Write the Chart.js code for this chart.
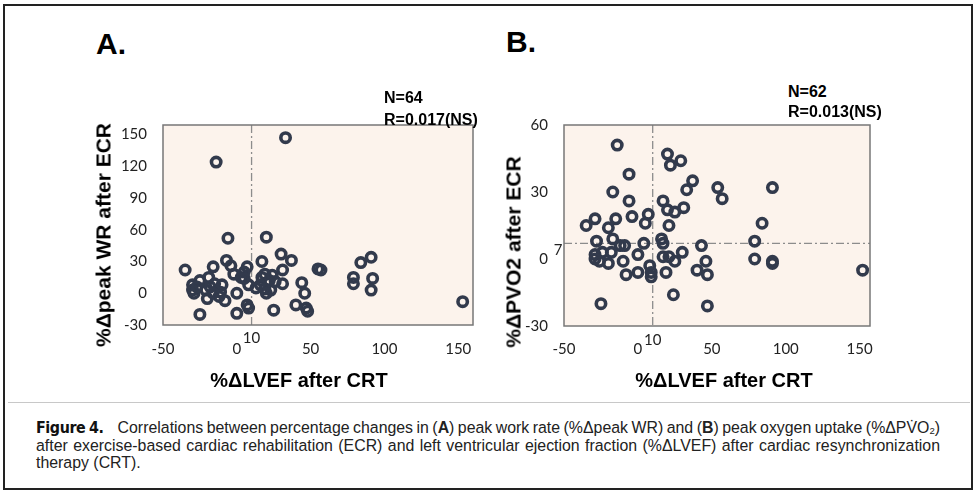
<!DOCTYPE html>
<html>
<head>
<meta charset="utf-8">
<script src="https://cdn.jsdelivr.net/npm/chart.js@4.4.1/dist/chart.umd.min.js"></script>
<style>
  html, body { margin: 0; padding: 0; background: #fff; }
  #page { position: relative; width: 978px; height: 495px; overflow: hidden; font-family: "Liberation Sans", Arial, sans-serif; }
  #frame { position: absolute; left: 3px; top: 4px; width: 966px; height: 482px; border: 2px solid #222; }
  #sep { position: absolute; left: 8px; top: 402px; width: 962px; height: 1px; background: #c8c8c8; }
  canvas { position: absolute; }
  .lbl { position: absolute; font-weight: bold; color: #000; white-space: nowrap; line-height: 1; }
  .panel { font-size: 30px; }
  .stat { font-size: 16px; }
  .ytitle { font-size: 21px; transform: translate(-50%, -50%) rotate(-90deg); }
  .xtitle { font-size: 20px; transform: translate(-50%, -50%); }
  .cap { position: absolute; left: 36px; width: 904px; font-size: 15px; color: #222; white-space: nowrap; line-height: 1; }
  .cap b.fig { font-family: "DejaVu Sans Condensed", "Liberation Sans Narrow", sans-serif; font-weight: bold; font-size: 1em; margin-right: 14px; letter-spacing: -0.4px; color: #111; }
  .cap sub { font-size: 0.6em; vertical-align: -1px; }
</style>
</head>
<body>
<div id="page">
  <div id="frame"></div>
  <div id="sep"></div>

  <canvas id="chartA" width="420" height="300" style="left:80px;top:100px;width:420px;height:300px"></canvas>
  <canvas id="chartB" width="400" height="300" style="left:500px;top:100px;width:400px;height:300px"></canvas>

  <div class="lbl panel" style="left:96px;top:29px">A.</div>
  <div class="lbl panel" style="left:506px;top:27px">B.</div>

  <div class="lbl stat" style="left:384px;top:90px">N=64</div>
  <div class="lbl stat" style="left:384px;top:112px">R=0.017(NS)</div>
  <div class="lbl stat" style="left:788px;top:84px">N=62</div>
  <div class="lbl stat" style="left:788px;top:104px">R=0.013(NS)</div>

  <div class="lbl ytitle" style="left:103px;top:235px">%Δpeak WR after ECR</div>
  <div class="lbl ytitle" style="left:513px;top:252px">%ΔPVO2 after ECR</div>
  <div class="lbl xtitle" style="left:299px;top:380px">%ΔLVEF after CRT</div>
  <div class="lbl xtitle" style="left:724px;top:380px">%ΔLVEF after CRT</div>

  <div class="cap" style="top:420px"><span class="line"><b class="fig">Figure 4.</b>Correlations between percentage changes in (<b>A</b>) peak work rate (%Δpeak WR) and (<b>B</b>) peak oxygen uptake (%ΔPV̇O<sub>2</sub>)</span></div>
  <div class="cap" style="top:438px"><span class="line">after exercise-based cardiac rehabilitation (ECR) and left ventricular ejection fraction (%ΔLVEF) after cardiac resynchronization</span></div>
  <div class="cap" style="top:455px"><span>therapy (CRT).</span></div>
</div>

<script>
// panel A: %ΔLVEF after CRT vs %Δpeak WR after ECR (N=64)
const lvefA = [
  33, -14, -6, 20, -35, -16, -7, -4, 7, 5, 3, 17, 30, 37, 31, 55,
  57, 84, 91, 79, 79, 92, 91, 153, 44, 46, 40, 47, 48, 25, 7, 8,
  0, -25, 0, 8, -30, -29, -25, -21, -19, -18, -15, -11, -10, -20, -12, -8,
  -30, 17, 19, 22, 16, 19, 23, 26, 31, 20, 24, 5, -27, -16, 13, -2,
];
const peakWR = [
  147, 124, 52, 53, 22, 25, 31, 26, 25, 20, 15, 30, 37, 31, 22, 23,
  22, 29, 34, 15, 9, 14, 3, -8, 10, 0, -11, -14, -17, -16, -11, -14,
  -19, -20, 0, 8, 8, 0, 12, 3, 15, 6, 9, 1, 8, -5, -3, -7,
  3, 15, 18, 12, 8, 4, 3, 11, 9, 0, 17, 14, 6, 0, 5, 18,
];

// panel B: %ΔLVEF after CRT vs %ΔPVO2 after ECR (N=62)
const lvefB = [
  -14, 20, 29, 22, -6, 37, 33, 54, 57, 91, -17, -6, 17, 20, 25, 31,
  7, 5, -4, -15, -29, -35, -20, 21, 84, -28, -17, -12, -9, 4, 16, 17,
  43, 79, -29, -24, -18, -29, -20, -10, 0, 17, 21, 25, 30, 46, 40, 47,
  79, 91, 91, 152, -8, 0, 8, 9, 9, 19, 24, 47, -25, -26,
];
const peakVO2 = [
  51, 47, 44, 42, 38, 35, 31, 32, 27, 32, 30, 26, 26, 22, 21, 23,
  20, 16, 19, 18, 18, 15, 14, 15, 16, 8, 9, 6, 6, 7, 9, 7,
  6, 8, 2, 3, 3, 0, -2, -1, 2, 1, 1, -1, 3, -1, -5, -7,
  0, -1, -2, -5, -7, -6, -3, -6, -8, -6, -16, -21, -20, -1,
];

const xTicks = [-50, 0, 50, 100, 150];
const yTicksA = [-30, 0, 30, 60, 90, 120, 150];
const yTicksB = [-30, 0, 30, 60];

const markerColor = "#323a4c";
const tickFont = { family: "Lato, 'Open Sans', sans-serif", size: 15 };

const toPoints = (xs, ys) => xs.map((x, i) => ({ x, y: ys[i] }));

const panelDecor = {
  id: "panelDecor",
  beforeDatasetsDraw(chart, args, opts) {
    const { ctx, chartArea: a, scales } = chart;
    ctx.save();
    ctx.fillStyle = "#fcf3ec";
    ctx.fillRect(a.left, a.top, a.width, a.height);

    ctx.strokeStyle = "#8c8c8c";
    ctx.lineWidth = 1.3;
    ctx.setLineDash([8, 3, 2, 3]);
    ctx.beginPath();
    const vx = scales.x.getPixelForValue(opts.refX);
    ctx.moveTo(vx, a.top);
    ctx.lineTo(vx, a.bottom);
    if (opts.refY !== undefined) {
      const hy = scales.y.getPixelForValue(opts.refY);
      ctx.moveTo(a.left, hy);
      ctx.lineTo(a.right, hy);
    }
    ctx.stroke();
    ctx.restore();
  },
  afterDraw(chart, args, opts) {
    const { ctx, chartArea: a, scales } = chart;
    ctx.save();
    ctx.strokeStyle = "#777";
    ctx.lineWidth = 1.5;
    ctx.strokeRect(a.left, a.top, a.width, a.height);

    ctx.fillStyle = "#222";
    ctx.font = `${tickFont.size}px ${tickFont.family}`;
    ctx.textAlign = "center";
    ctx.textBaseline = "middle";
    ctx.fillText(String(opts.refX), scales.x.getPixelForValue(opts.refX), a.bottom + opts.refXLabelOffset);
    if (opts.refY !== undefined) {
      ctx.fillText(String(opts.refY), a.left - 6, scales.y.getPixelForValue(opts.refY) + 7);
    }
    ctx.restore();
  },
};

const buildScatter = (canvasId, points, cfg) => {
  const canvas = document.getElementById(canvasId);
  new Chart(canvas, {
    data: {
      datasets: [
        {
          backgroundColor: "rgba(0,0,0,0)",
          borderColor: markerColor,
          borderWidth: 3.6,
          data: points,
          pointHoverRadius: 4.7,
          pointRadius: 4.7,
        },
      ],
    },
    options: {
      animation: false,
      events: [],
      layout: { padding: cfg.padding },
      plugins: {
        legend: { display: false },
        panelDecor: {
          refX: 10,
          refXLabelOffset: cfg.refXLabelOffset,
          refY: cfg.refY,
        },
        tooltip: { enabled: false },
      },
      responsive: false,
      scales: {
        x: {
          afterBuildTicks: (scale) => {
            scale.ticks = xTicks.map((value) => ({ value }));
          },
          afterFit: (scale) => {
            scale.height = cfg.xHeight;
          },
          border: { display: false },
          grid: { display: false, drawTicks: false },
          max: cfg.xMax,
          min: -50,
          ticks: { color: "#222", font: tickFont, maxRotation: 0, padding: cfg.xPad },
          type: "linear",
        },
        y: {
          afterBuildTicks: (scale) => {
            scale.ticks = cfg.yTicks.map((value) => ({ value }));
          },
          afterFit: (scale) => {
            scale.width = cfg.yWidth;
          },
          border: { display: false },
          grid: { display: false, drawTicks: false },
          max: cfg.yMax,
          min: -30,
          ticks: { color: "#222", font: tickFont, padding: 16 },
          type: "linear",
        },
      },
    },
    plugins: [panelDecor],
    type: "scatter",
  });
};

buildScatter("chartA", toPoints(lvefA, peakWR), {
  padding: { bottom: 0, left: 0, right: 27, top: 23 },
  refXLabelOffset: 13,
  xHeight: 75,
  xMax: 160,
  xPad: 15,
  yMax: 159,
  yTicks: yTicksA,
  yWidth: 83,
});

buildScatter("chartB", toPoints(lvefB, peakVO2), {
  padding: { bottom: 0, left: 0, right: 30, top: 25 },
  refXLabelOffset: 14,
  refY: 7,
  xHeight: 74,
  xMax: 157,
  xPad: 14,
  yMax: 60,
  yTicks: yTicksB,
  yWidth: 64,
});

// size the caption so the second line nearly fills the column, then justify
const captionLines = document.querySelectorAll(".cap .line");
const caps = document.querySelectorAll(".cap");
const natural = captionLines[1].getBoundingClientRect().width;
const capSize = Math.min(17, 15 * (892 / natural));
caps.forEach((cap) => {
  cap.style.fontSize = `${capSize}px`;
});
captionLines.forEach((line) => {
  const spaces = (line.textContent.match(/ /g) || []).length;
  const extra = 904 - line.getBoundingClientRect().width;
  if (spaces) {
    line.style.wordSpacing = `${extra / spaces}px`;
  }
});
</script>
</body>
</html>
